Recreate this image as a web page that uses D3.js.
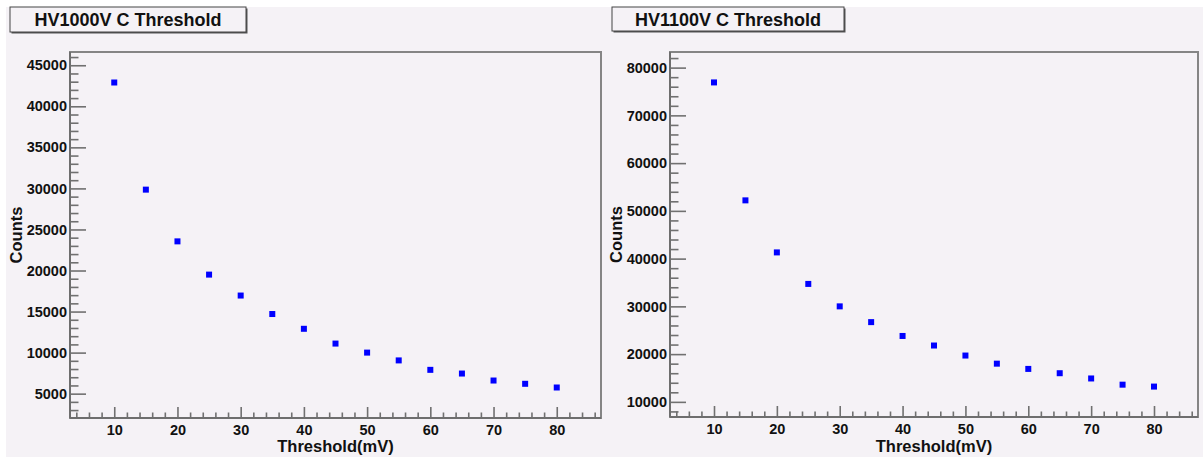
<!DOCTYPE html>
<html>
<head>
<meta charset="utf-8">
<script src="https://cdn.jsdelivr.net/npm/d3@7/dist/d3.min.js"></script>
<style>
  html, body { margin: 0; padding: 0; background: #ffffff; }
  svg { display: block; }
  text { font-family: "Liberation Sans", Arial, Helvetica, sans-serif; font-weight: bold; fill: #111; }
</style>
</head>
<body>
<svg id="chart" width="1203" height="457"></svg>
<script>
// Threshold scan: counts versus discriminator threshold at two HV settings
const thresholds = [10, 15, 20, 25, 30, 35, 40, 45, 50, 55, 60, 65, 70, 75, 80];
const countsHV1000 = [42900, 29850, 23550, 19500, 16950, 14700, 12900, 11100, 10000, 9050, 7900, 7450, 6600, 6200, 5750];
const countsHV1100 = [76900, 52200, 41300, 34700, 30000, 26700, 23800, 21800, 19700, 18000, 16900, 16000, 14900, 13600, 13200];

const xTickValues = [10, 20, 30, 40, 50, 60, 70, 80];
const yTicksHV1000 = [5000, 10000, 15000, 20000, 25000, 30000, 35000, 40000, 45000];
const yTicksHV1100 = [10000, 20000, 30000, 40000, 50000, 60000, 70000, 80000];

const panelTitles = ["HV1000V C Threshold", "HV1100V C Threshold"];
const xTitle = "Threshold(mV)";
const yTitle = "Counts";

const svg = d3.select("#chart");

// canvas background
svg.append("rect")
  .attr("x", 6).attr("y", 7).attr("width", 1197).attr("height", 450)
  .attr("fill", "#f5f2f6");

const panels = [
  { title: panelTitles[0], values: countsHV1000, majors: yTicksHV1000, minorStep: 1000,
    frame: { x0: 70, x1: 601, y0: 52, y1: 418 }, titleBox: { x: 10, y: 7, w: 236, h: 25 }, yTitleX: 22 },
  { title: panelTitles[1], values: countsHV1100, majors: yTicksHV1100, minorStep: 2000,
    frame: { x0: 670, x1: 1198, y0: 52, y1: 417 }, titleBox: { x: 612, y: 7, w: 232, h: 24 }, yTitleX: 622 }
];

// padded range, 10% of the data span on each side
function padded(vals) {
  const lo = d3.min(vals), hi = d3.max(vals), d = hi - lo;
  return [lo - 0.1 * d, hi + 0.1 * d];
}

panels.forEach(p => {
  const f = p.frame;
  const x = d3.scaleLinear().domain(padded(thresholds)).range([f.x0, f.x1]);
  const y = d3.scaleLinear().domain(padded(p.values)).range([f.y1, f.y0]);
  const g = svg.append("g");

  // frame (top and right edges)
  g.append("rect")
    .attr("x", f.x0).attr("y", f.y0)
    .attr("width", f.x1 - f.x0).attr("height", f.y1 - f.y0)
    .attr("fill", "none").attr("stroke", "#858585").attr("stroke-width", 2);

  // minor ticks
  const [xd0, xd1] = x.domain();
  const xMinor = d3.range(Math.ceil(xd0 / 2) * 2, xd1, 2).filter(v => v % 10 !== 0);
  const [yd0, yd1] = y.domain();
  const yMinor = d3.range(Math.ceil(yd0 / p.minorStep) * p.minorStep, yd1, p.minorStep)
    .filter(v => !p.majors.includes(v));

  const xMinorAxis = g.append("g").attr("transform", `translate(0,${f.y1})`)
    .call(d3.axisBottom(x).tickValues(xMinor).tickSize(-5.5).tickFormat(""));
  const yMinorAxis = g.append("g").attr("transform", `translate(${f.x0},0)`)
    .call(d3.axisLeft(y).tickValues(yMinor).tickSize(-8.5).tickFormat(""));

  // major axes
  const xAxis = g.append("g").attr("transform", `translate(0,${f.y1})`)
    .call(d3.axisBottom(x).tickValues(xTickValues).tickSizeInner(-11).tickSizeOuter(0).tickPadding(7)
      .tickFormat(d3.format("d")));
  const yAxis = g.append("g").attr("transform", `translate(${f.x0},0)`)
    .call(d3.axisLeft(y).tickValues(p.majors).tickSizeInner(-16).tickSizeOuter(0).tickPadding(3)
      .tickFormat(d3.format("d")));

  [xMinorAxis, yMinorAxis, xAxis, yAxis].forEach(a => {
    a.select(".domain").remove();
    a.selectAll(".tick line").attr("stroke", "#707070").attr("stroke-width", 1.6);
  });
  xAxis.selectAll(".tick text").attr("font-size", 14.5).attr("fill", "#111")
    .attr("dy", "0.71em");
  yAxis.selectAll(".tick text").attr("font-size", 14.5).attr("fill", "#111");

  // axis lines
  g.append("line").attr("x1", f.x0).attr("x2", f.x1).attr("y1", f.y1).attr("y2", f.y1)
    .attr("stroke", "#6e6e6e").attr("stroke-width", 2);
  g.append("line").attr("x1", f.x0).attr("x2", f.x0).attr("y1", f.y0).attr("y2", f.y1)
    .attr("stroke", "#6e6e6e").attr("stroke-width", 2);

  // axis titles
  g.append("text")
    .attr("x", (f.x0 + f.x1) / 2).attr("y", 451.5)
    .attr("text-anchor", "middle").attr("font-size", 16.5)
    .text(xTitle);
  g.append("text")
    .attr("transform", `translate(${p.yTitleX},${(f.y0 + f.y1) / 2}) rotate(-90)`)
    .attr("text-anchor", "middle").attr("font-size", 16.5)
    .text(yTitle);

  // data markers
  g.selectAll("rect.pt").data(thresholds.map((t, i) => [t, p.values[i]]))
    .join("rect").attr("class", "pt")
    .attr("x", d => x(d[0]) - 3).attr("y", d => y(d[1]) - 3)
    .attr("width", 6).attr("height", 6)
    .attr("fill", "#0000ff");

  // title box
  const tb = p.titleBox;
  g.append("rect")
    .attr("x", tb.x + 1.5).attr("y", tb.y + 1.5).attr("width", tb.w).attr("height", tb.h)
    .attr("fill", "#555");
  g.append("rect")
    .attr("x", tb.x).attr("y", tb.y).attr("width", tb.w).attr("height", tb.h)
    .attr("fill", "#f5f2f6").attr("stroke", "#444").attr("stroke-width", 1);
  g.append("text")
    .attr("x", tb.x + tb.w / 2).attr("y", tb.y + 19)
    .attr("text-anchor", "middle").attr("font-size", 18)
    .text(p.title);
});
</script>
</body>
</html>
